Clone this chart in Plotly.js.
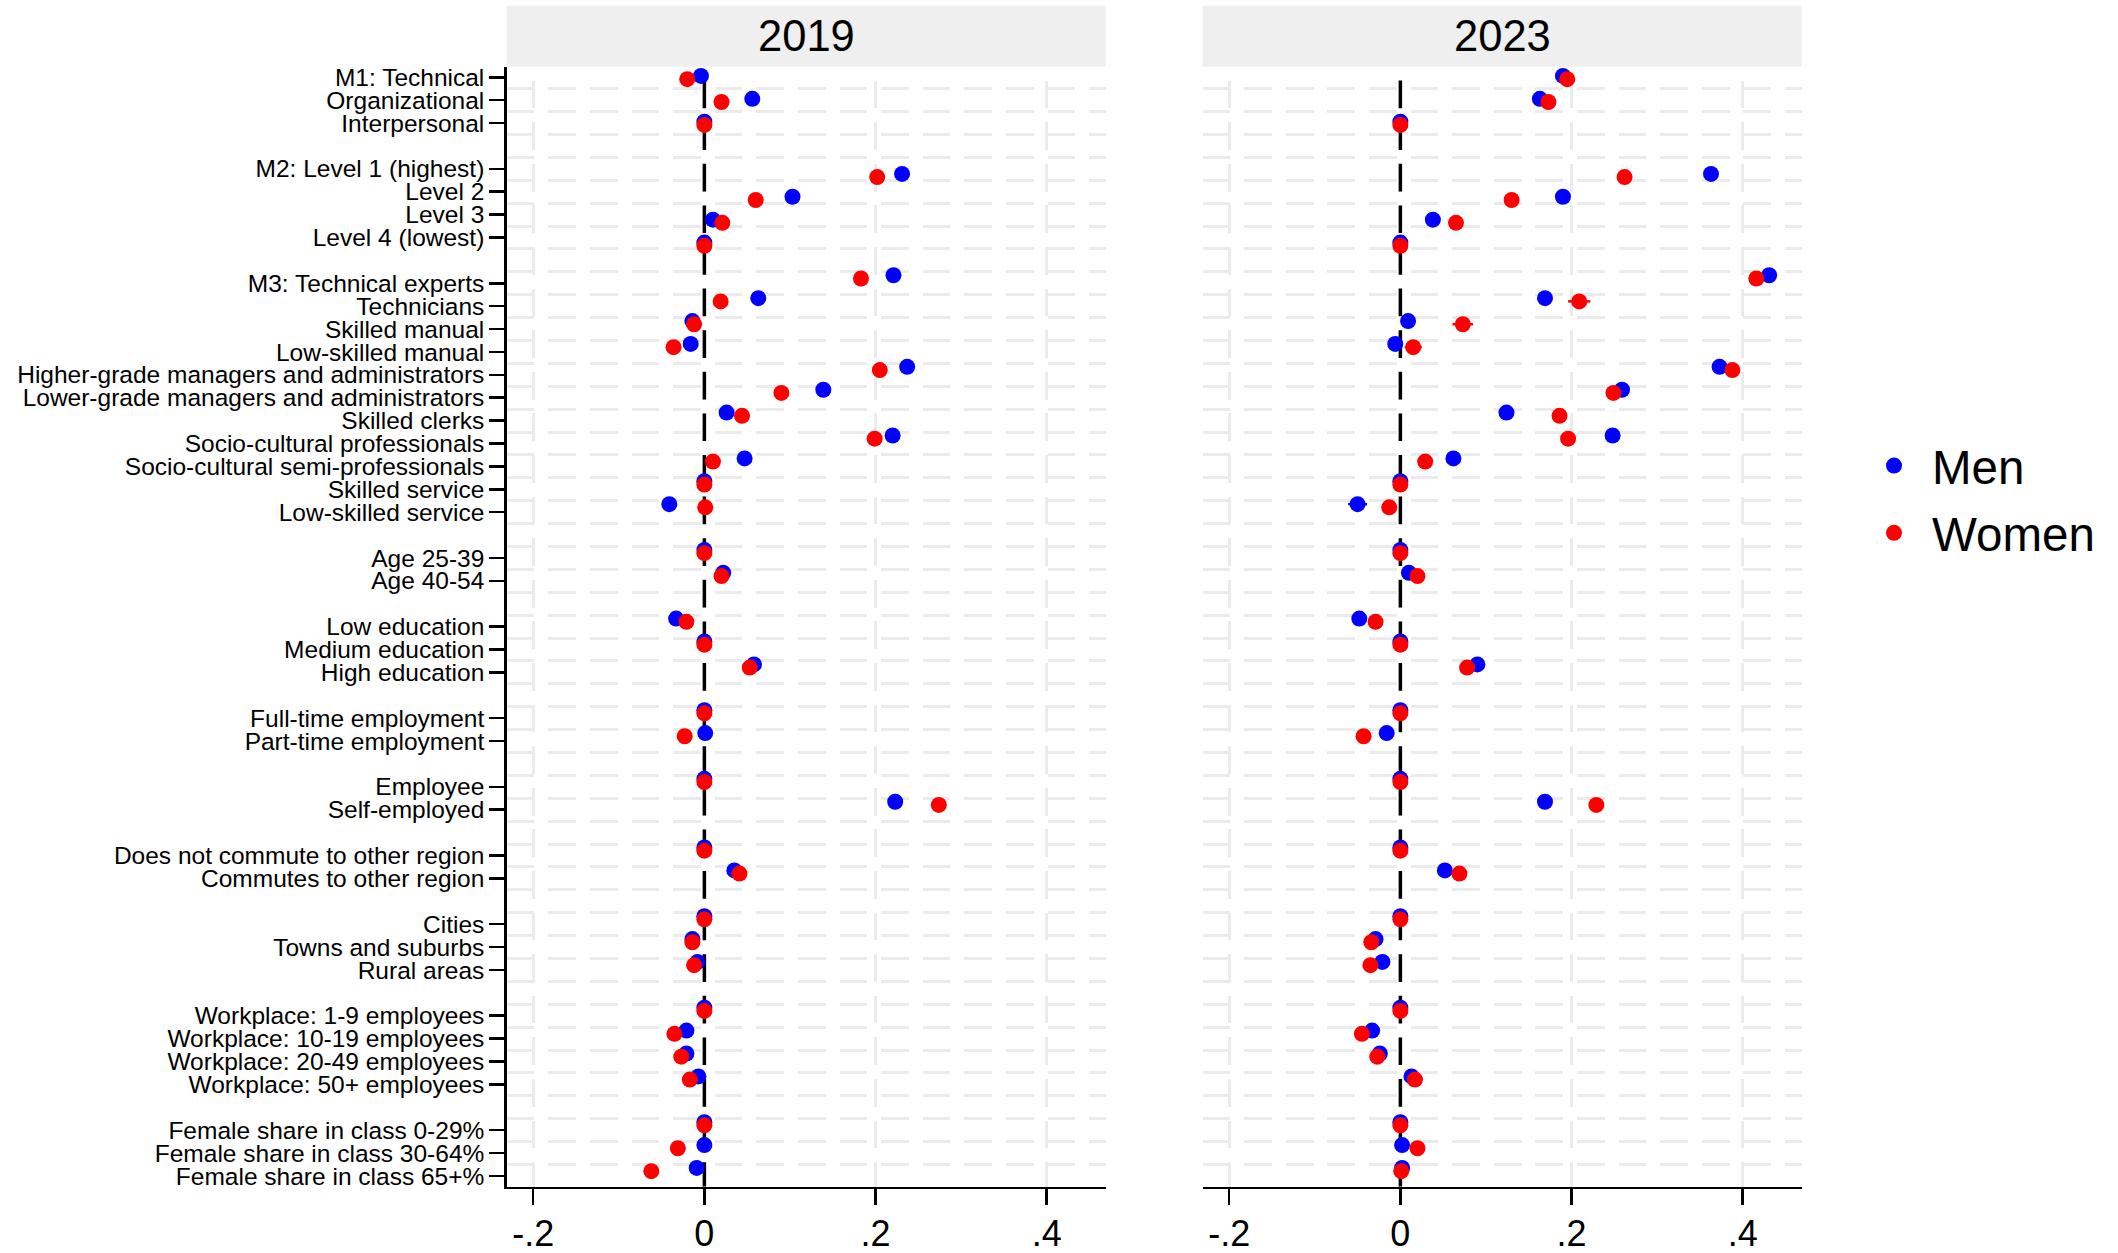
<!DOCTYPE html>
<html>
<head>
<meta charset="utf-8">
<script src="https://cdn.plot.ly/plotly-3.0.1.min.js"></script>
<style>
  html, body { margin: 0; padding: 0; background: #ffffff; }
  #chart { width: 2118px; height: 1253px; }
</style>
</head>
<body>
<div id="chart"></div>
<script>
// ---------------- DATA ----------------
const categories = [
  "M1: Technical", "Organizational", "Interpersonal",
  "M2: Level 1 (highest)", "Level 2", "Level 3", "Level 4 (lowest)",
  "M3: Technical experts", "Technicians", "Skilled manual", "Low-skilled manual",
  "Higher-grade managers and administrators", "Lower-grade managers and administrators",
  "Skilled clerks", "Socio-cultural professionals", "Socio-cultural semi-professionals",
  "Skilled service", "Low-skilled service",
  "Age 25-39", "Age 40-54",
  "Low education", "Medium education", "High education",
  "Full-time employment", "Part-time employment",
  "Employee", "Self-employed",
  "Does not commute to other region", "Commutes to other region",
  "Cities", "Towns and suburbs", "Rural areas",
  "Workplace: 1-9 employees", "Workplace: 10-19 employees", "Workplace: 20-49 employees", "Workplace: 50+ employees",
  "Female share in class 0-29%", "Female share in class 30-64%", "Female share in class 65+%"
];
const groupSizes = [3, 4, 11, 2, 3, 2, 2, 2, 3, 4, 3];

const panelTitles = ["2019", "2023"];
const seriesNames = ["Men", "Women"];

const men2019 = [
  -0.004, 0.056, 0,
  0.231, 0.103, 0.010, 0,
  0.221, 0.063, -0.014, -0.016, 0.237, 0.139, 0.026, 0.220, 0.047, 0, -0.041,
  0, 0.022,
  -0.033, 0, 0.058,
  0, 0.001,
  0, 0.223,
  0, 0.035,
  0, -0.014, -0.008,
  0, -0.021, -0.021, -0.007,
  0, 0, -0.009
];
const women2019 = [
  -0.020, 0.020, 0,
  0.202, 0.060, 0.021, 0,
  0.183, 0.019, -0.012, -0.036, 0.205, 0.090, 0.044, 0.199, 0.010, 0, 0.001,
  0, 0.020,
  -0.021, 0, 0.053,
  0, -0.023,
  0, 0.274,
  0, 0.041,
  0, -0.014, -0.012,
  0, -0.035, -0.027, -0.017,
  0, -0.031, -0.062
];
const men2023 = [
  0.190, 0.163, 0,
  0.363, 0.190, 0.038, 0,
  0.431, 0.169, 0.009, -0.006, 0.373, 0.259, 0.124, 0.248, 0.062, 0, -0.050,
  0, 0.010,
  -0.048, 0, 0.090,
  0, -0.016,
  0, 0.169,
  0, 0.052,
  0, -0.029, -0.021,
  0, -0.033, -0.024, 0.013,
  0, 0.002, 0.002
];
const women2023 = [
  0.195, 0.173, 0,
  0.262, 0.130, 0.065, 0,
  0.416, 0.209, 0.073, 0.015, 0.388, 0.249, 0.186, 0.196, 0.029, 0, -0.013,
  0, 0.020,
  -0.029, 0, 0.078,
  0, -0.043,
  0, 0.229,
  0, 0.069,
  0, -0.034, -0.035,
  0, -0.045, -0.027, 0.017,
  0, 0.020, 0.001
];
// half-widths of confidence intervals that stick out beyond the markers (2023 panel)
const menCI2023 = [
  0, 0, 0,
  0, 0, 0, 0,
  0, 0, 0, 0, 0, 0, 0, 0, 0, 0, 0.011,
  0, 0,
  0, 0, 0,
  0, 0,
  0, 0,
  0, 0,
  0, 0, 0,
  0, 0, 0, 0,
  0, 0, 0
];
const womenCI2023 = [
  0, 0, 0,
  0, 0, 0, 0,
  0, 0.013, 0.012, 0.010, 0, 0, 0, 0, 0, 0, 0,
  0, 0,
  0, 0, 0,
  0, 0,
  0, 0,
  0, 0,
  0, 0, 0,
  0, 0, 0, 0,
  0, 0, 0
];

const xTickVals = [-0.2, 0, 0.2, 0.4];
const xTickText = ["-.2", "0", ".2", ".4"];
const referenceX = 0;

// ---------------- STYLE / LAYOUT ----------------
const W = 2118, H = 1253;
const FONT = "Liberation Sans, Arial, Helvetica, sans-serif";
const COLORS = ["#0000ff", "#ff0000"];
const GRID = "#ebebeb";
const DASH_H = "27.7px,13.9px";
const DASH_V = "0px,13.9px,27.7px,0px";
// vertical marker offset (in row units) for men / women, per group
const GROUP_SHIFT = [[-0.06, 0.08], [0.22, 0.36]];
const DEFAULT_SHIFT = [-0.35, -0.21];

// slot positions: one blank row between groups
const slot = [], gIdx = [];
(function () {
  let s = 0;
  groupSizes.forEach((n, g) => {
    for (let i = 0; i < n; i++) { slot.push(s++); gIdx.push(g); }
    s++;
  });
})();
const shiftFor = (g, k) => (GROUP_SHIFT[g] ? GROUP_SHIFT[g][k] : DEFAULT_SHIFT[k]);
const yMen = slot.map((v, i) => v + shiftFor(gIdx[i], 0));
const yWomen = slot.map((v, i) => v + shiftFor(gIdx[i], 1));
const halfSlots = [];
for (let k = -1; k <= slot[slot.length - 1]; k++) halfSlots.push(k + 0.5);

const px = (a, b) => [a / W, b / W];
const py = (top, bottom) => [1 - bottom / H, 1 - top / H];
const xDom1 = px(506.7, 1105.7), xDom2 = px(1202.7, 1801.7);
const yDom = py(66.7, 1186.7);
const xRange = [-0.231, 0.469];
const yRange = [48.47, -0.463];

function trace(x, y, k, xa, ya, show, ci) {
  const t = {
    type: "scatter", mode: "markers", x: x, y: y, name: seriesNames[k],
    xaxis: xa, yaxis: ya, showlegend: show, legendgroup: seriesNames[k],
    marker: { color: COLORS[k], size: 16, line: { width: 0 } },
    hoverinfo: "skip", cliponaxis: false
  };
  if (ci) t.error_x = { type: "data", array: ci, visible: true, color: COLORS[k], thickness: 2.5, width: 0 };
  return t;
}
function refLine(xa, ya) {
  return {
    type: "scatter", mode: "lines", x: [referenceX, referenceX], y: [yRange[1], yRange[0]],
    xaxis: xa, yaxis: ya, showlegend: false, hoverinfo: "skip",
    line: { color: "#000", width: 3.5, dash: DASH_V }
  };
}

const data = [
  refLine("x", "y"),
  refLine("x2", "y2"),
  trace(men2019, yMen, 0, "x", "y", true),
  trace(women2019, yWomen, 1, "x", "y", true),
  trace(men2023, yMen, 0, "x2", "y2", false, menCI2023),
  trace(women2023, yWomen, 1, "x2", "y2", false, womenCI2023)
];

function xAxis(dom, anchor) {
  return {
    domain: dom, anchor: anchor, range: xRange, fixedrange: true,
    tickmode: "array", tickvals: xTickVals, ticktext: xTickText,
    ticks: "outside", ticklen: 16, tickwidth: 2.5, tickcolor: "#000",
    showline: true, linecolor: "#000", linewidth: 2.5,
    showgrid: true, gridcolor: GRID, gridwidth: 3, griddash: DASH_V,
    zeroline: false, ticklabelstandoff: -2,
    tickfont: { family: FONT, size: 36, color: "#000" }
  };
}
function yAxis(anchor, labels) {
  const a = {
    domain: yDom, anchor: anchor, range: yRange, fixedrange: true,
    tickmode: "array", tickvals: slot, ticktext: categories,
    showgrid: false, zeroline: false,
    minor: { tickmode: "array", tickvals: halfSlots, showgrid: true, gridcolor: GRID, gridwidth: 3, griddash: DASH_H, ticks: "" },
    tickfont: { family: FONT, size: 24.5, color: "#000" }
  };
  if (labels) {
    Object.assign(a, { ticks: "outside", ticklen: 15, tickwidth: 2.5, tickcolor: "#000",
      showline: true, linecolor: "#000", linewidth: 2.5, showticklabels: true });
  } else {
    Object.assign(a, { ticks: "", showline: false, showticklabels: false });
  }
  return a;
}

const strips = [xDom1, xDom2].map(d => ({
  type: "rect", xref: "paper", yref: "paper", layer: "below",
  x0: d[0], x1: d[1], y0: 1 - 66.7 / H, y1: 1 - 5.7 / H,
  fillcolor: "#efefef", line: { width: 0 }
}));
const titles = [xDom1, xDom2].map((d, i) => ({
  xref: "paper", yref: "paper", x: (d[0] + d[1]) / 2, y: 1 - 36.2 / H,
  xanchor: "center", yanchor: "middle", showarrow: false,
  text: panelTitles[i], font: { family: FONT, size: 43.5, color: "#000" }
}));

const layout = {
  width: W, height: H,
  margin: { l: 0, r: 0, t: 0, b: 0, pad: 0 },
  paper_bgcolor: "#ffffff", plot_bgcolor: "#ffffff",
  font: { family: FONT, color: "#000" },
  xaxis: xAxis(xDom1, "y"),
  xaxis2: xAxis(xDom2, "y2"),
  yaxis: yAxis("x", true),
  yaxis2: yAxis("x2", false),
  shapes: strips,
  annotations: titles,
  showlegend: true,
  legend: {
    x: 1856 / W, y: 1 - 499.2 / H, xanchor: "left", yanchor: "middle",
    bgcolor: "rgba(0,0,0,0)", borderwidth: 0,
    font: { family: FONT, size: 47.5, color: "#000" },
    tracegroupgap: 2.5, itemsizing: "trace", itemwidth: 66
  }
};

Plotly.newPlot("chart", data, layout, { displayModeBar: false, staticPlot: true });
</script>
</body>
</html>
